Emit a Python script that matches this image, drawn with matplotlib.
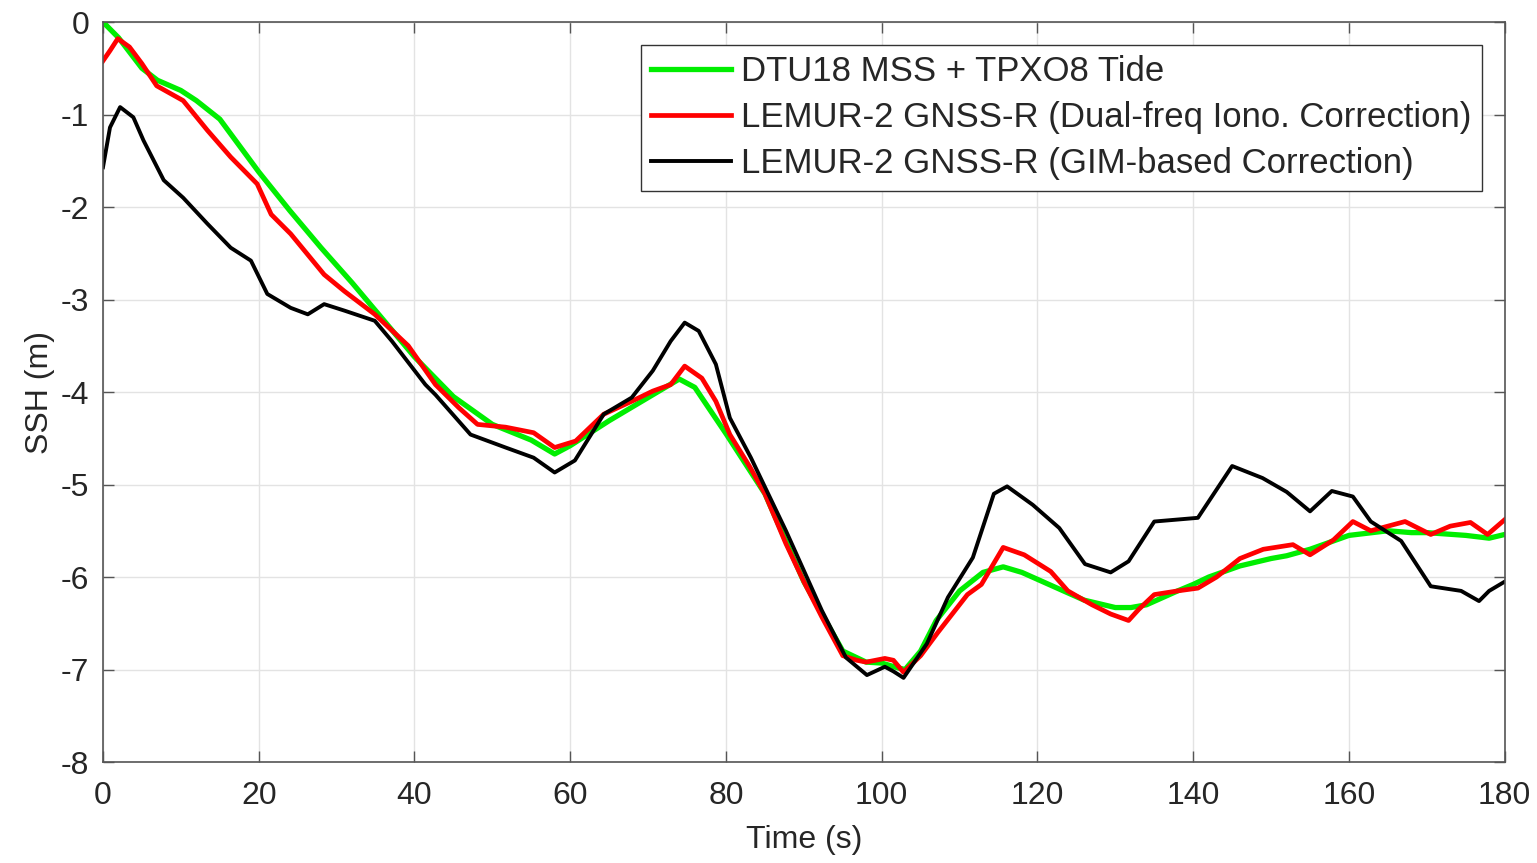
import matplotlib
matplotlib.use("Agg")
import matplotlib.pyplot as plt

plt.rcParams['font.family'] = ['Liberation Sans', 'DejaVu Sans']
plt.rcParams['axes.unicode_minus'] = False

# DTU18 MSS + TPXO8 Tide
t_dtu = [0, 2, 5, 7, 10, 12, 15, 20, 24, 28, 32, 35, 40, 45, 50, 55, 58, 60, 65, 70,
         74, 76, 78, 80, 85, 90, 95, 98, 100, 102, 103, 105, 107, 110, 113, 115.6, 118,
         122, 126, 130, 132, 134, 138, 140, 142, 146, 150, 152, 155, 160, 165, 168, 170,
         175, 178, 180]
ssh_dtu = [0, -0.17, -0.5, -0.63, -0.74, -0.85, -1.05, -1.62, -2.04, -2.44, -2.82, -3.12,
           -3.62, -4.05, -4.35, -4.52, -4.67, -4.58, -4.31, -4.06, -3.86, -3.95, -4.2, -4.45,
           -5.1, -6.05, -6.8, -6.92, -6.93, -6.98, -7.0, -6.8, -6.47, -6.15, -5.95, -5.89,
           -5.95, -6.1, -6.25, -6.33, -6.33, -6.3, -6.15, -6.08, -6.0, -5.88, -5.8, -5.77,
           -5.7, -5.55, -5.5, -5.52, -5.52, -5.55, -5.58, -5.54]

# LEMUR-2 GNSS-R, dual-frequency ionospheric correction
t_dual = [0, 0.9, 1.9, 3.4, 5, 6.9, 10.3, 13.4, 16.4, 19.8, 21.6, 24.1, 28.4, 31, 34.9,
          39.2, 42.7, 45.7, 48.1, 51.7, 55.3, 58, 60.7, 64.3, 67.9, 70.6, 72.9, 74.7, 76.9,
          78.7, 80.5, 83, 85, 87.7, 90, 92.3, 95, 96.8, 98, 100.4, 101.5, 102.8, 105, 107.2,
          111, 112.8, 115.6, 118.3, 121.7, 123.9, 127, 129.4, 131.7, 133, 135, 138, 140.6,
          143, 146, 149, 152.8, 155, 158, 160.5, 162.8, 165, 167.2, 170.5, 173, 175.6,
          177.8, 180]
ssh_dual = [-0.42, -0.31, -0.18, -0.27, -0.45, -0.69, -0.85, -1.17, -1.46, -1.75, -2.08,
            -2.29, -2.73, -2.91, -3.16, -3.5, -3.92, -4.17, -4.35, -4.38, -4.44, -4.6, -4.53,
            -4.24, -4.1, -3.99, -3.92, -3.72, -3.85, -4.1, -4.46, -4.8, -5.1, -5.64, -6.05,
            -6.43, -6.85, -6.9, -6.92, -6.88, -6.9, -7.03, -6.85, -6.6, -6.19, -6.08, -5.68,
            -5.76, -5.94, -6.15, -6.3, -6.4, -6.47, -6.35, -6.19, -6.15, -6.12, -6.0, -5.8,
            -5.7, -5.65, -5.76, -5.6, -5.4, -5.5, -5.45, -5.4, -5.54, -5.45, -5.41, -5.54,
            -5.38]

# LEMUR-2 GNSS-R, GIM-based correction
t_gim = [0, 0.9, 2.2, 3.9, 5.2, 7.8, 10.3, 13.4, 16.4, 19, 21.1, 24.1, 26.3, 28.4, 31,
         34.9, 37.1, 41.4, 42.7, 47.2, 51.7, 55.3, 58, 60.6, 64.3, 67.9, 70.6, 72.9, 74.7,
         76.5, 78.7, 80.5, 83.2, 87.7, 92.3, 95.4, 98.1, 100.4, 101.5, 102.8, 105.8, 108.5,
         111.7, 114.4, 116.1, 119.4, 122.8, 126.1, 129.4, 131.7, 135, 140.6, 145, 148.9,
         152, 155, 157.8, 160.5, 162.8, 166.7, 170.5, 174.4, 176.7, 178, 179.4, 180]
ssh_gim = [-1.57, -1.14, -0.92, -1.03, -1.28, -1.71, -1.9, -2.18, -2.44, -2.58, -2.94,
           -3.09, -3.16, -3.05, -3.12, -3.23, -3.45, -3.92, -4.03, -4.46, -4.6, -4.71, -4.87,
           -4.74, -4.24, -4.06, -3.77, -3.45, -3.25, -3.34, -3.7, -4.28, -4.71, -5.5, -6.36,
           -6.87, -7.06, -6.97, -7.02, -7.09, -6.72, -6.22, -5.79, -5.1, -5.02, -5.22, -5.47,
           -5.86, -5.95, -5.83, -5.4, -5.36, -4.8, -4.93, -5.08, -5.29, -5.07, -5.13, -5.4,
           -5.61, -6.1, -6.15, -6.26, -6.15, -6.08, -6.05]

labels = ["DTU18 MSS + TPXO8 Tide",
          "LEMUR-2 GNSS-R (Dual-freq Iono. Correction)",
          "LEMUR-2 GNSS-R (GIM-based Correction)"]

fig = plt.figure(figsize=(15.37, 8.63), dpi=100, facecolor='w')
ax = fig.add_axes([0.067, 0.117, 0.912, 0.8575])

ax.plot(t_dtu, ssh_dtu, color='#00ee00', lw=3.8, label=labels[0], solid_joinstyle='round')
ax.plot(t_dual, ssh_dual, color='#ff0000', lw=3.4, label=labels[1], solid_joinstyle='round')
ax.plot(t_gim, ssh_gim, color='black', lw=2.8, label=labels[2], solid_joinstyle='round')

ax.set_xlim(0, 180)
ax.set_ylim(-8, 0)
ax.set_xticks(range(0, 181, 20))
ax.set_yticks(range(-8, 1, 1))
ax.grid(True, color='#e3e3e3', lw=1.0)
ax.set_axisbelow(True)

txt = '#262626'
for s in ax.spines.values():
    s.set_color('#555555')
    s.set_linewidth(1.2)
ax.tick_params(direction='in', length=8, width=1, color='#555555',
               top=True, right=True, labelsize=23, labelcolor=txt)
ax.tick_params(axis='x', pad=14)
ax.tick_params(axis='y', pad=10)
ax.set_xlabel('Time (s)', fontsize=23, color=txt, labelpad=10)
ax.set_ylabel('SSH (m)', fontsize=23, color=txt, labelpad=4)

leg = ax.legend(loc='upper right', fontsize=25, handlelength=2.3, labelspacing=0.38,
                borderaxespad=0.65, fancybox=False, framealpha=1, handletextpad=0.3,
                borderpad=0.3)
leg.get_frame().set_edgecolor('#333333')
leg.get_frame().set_linewidth(1.0)
for tx in leg.get_texts():
    tx.set_color(txt)

fig.savefig('out.png', dpi=100)
